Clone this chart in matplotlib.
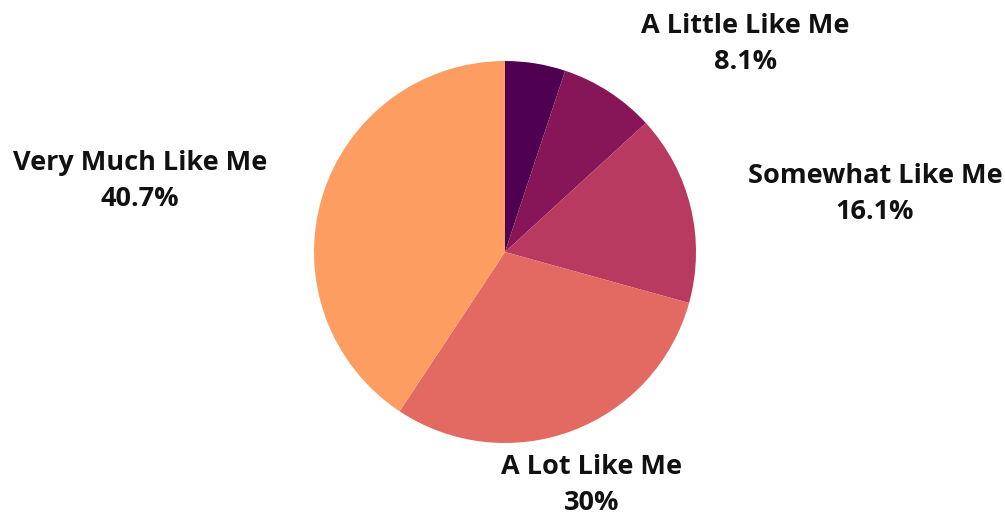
import matplotlib
matplotlib.use("Agg")
import matplotlib.pyplot as plt

categories = ["Not Like Me", "A Little Like Me", "Somewhat Like Me", "A Lot Like Me", "Very Much Like Me"]
values = [5.1, 8.1, 16.1, 30.0, 40.7]
value_labels = ["5.1%", "8.1%", "16.1%", "30%", "40.7%"]
show_label = [False, True, True, True, True]
colors = ["#500050", "#861658", "#b83a60", "#e36a62", "#fe9d62"]

# label centre positions (data coords, pie radius = 1)
label_pos = [(0, 0), (1.257, 1.089), (1.937, 0.304), (0.455, -1.220), (-1.911, 0.372)]

W, H = 1005, 512
fig = plt.figure(figsize=(W / 100, H / 100), dpi=100)
cx, cy, r = 505, 252, 191
ax = fig.add_axes([(cx - r) / W, (H - cy - r) / H, 2 * r / W, 2 * r / H])
ax.pie(values, colors=colors, startangle=90, counterclock=False, radius=1,
       wedgeprops=dict(linewidth=0))
ax.set_xlim(-1, 1)
ax.set_ylim(-1, 1)
ax.set_aspect("equal")
ax.axis("off")

for cat, lab, show, (x, y) in zip(categories, value_labels, show_label, label_pos):
    if not show:
        continue
    ax.text(x, y, f"{cat}\n{lab}", ha="center", va="center", fontsize=19.5,
            fontweight="bold", family=["Open Sans", "DejaVu Sans"],
            linespacing=1.5, clip_on=False, color="#111111")

fig.savefig("out.png", dpi=100)
